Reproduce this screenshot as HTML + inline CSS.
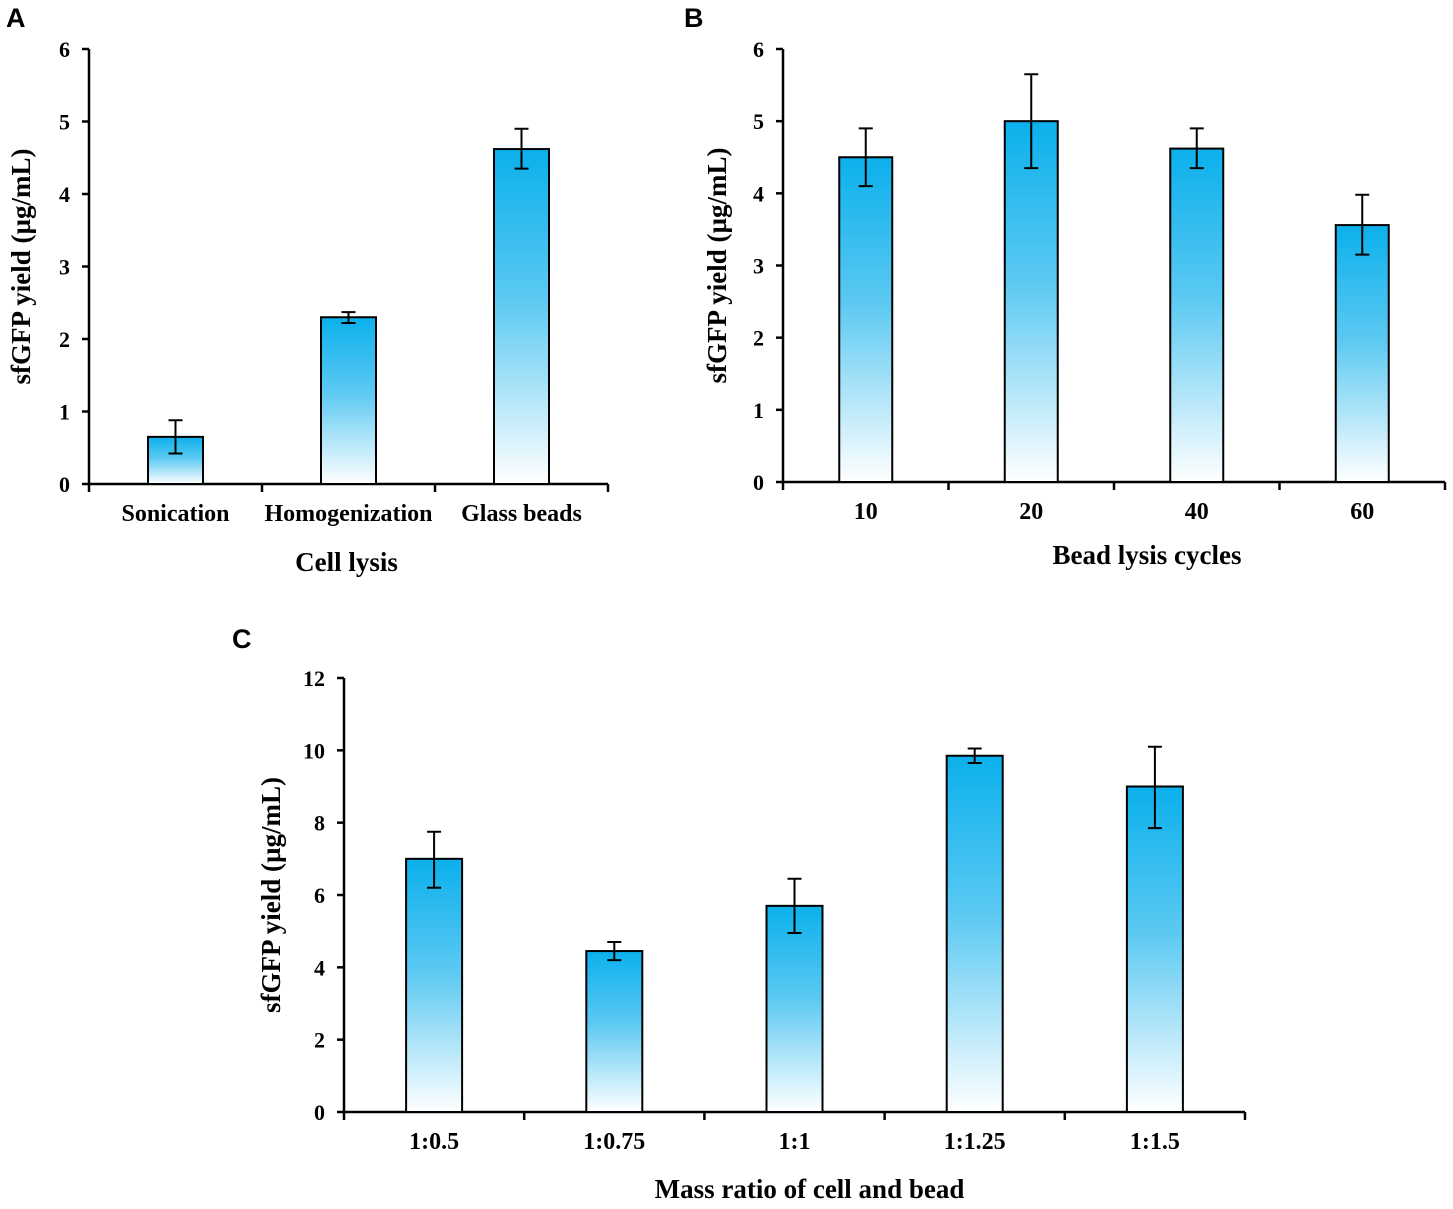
<!DOCTYPE html>
<html><head><meta charset="utf-8"><style>
html,body{margin:0;padding:0;background:#fff;}
svg text{font-family:"Liberation Serif",serif;font-weight:bold;fill:#000;}
</style></head><body>
<svg id="fig" width="1453" height="1204" viewBox="0 0 1453 1204" xmlns="http://www.w3.org/2000/svg">
<defs><linearGradient id="g" x1="0" y1="0" x2="0" y2="1">
<stop offset="0" stop-color="#0bb0ec"/><stop offset="0.45" stop-color="#5cc9f2"/><stop offset="1" stop-color="#ffffff"/></linearGradient></defs>
</svg>
<script>
const catsA=["Sonication","Homogenization","Glass beads"];
const valsA=[0.65,2.3,4.62];
const errLoA=[0.42,2.22,4.35];
const errHiA=[0.88,2.37,4.9];
const ticksA=[0,1,2,3,4,5,6];
const catsB=["10","20","40","60"];
const valsB=[4.5,5.0,4.62,3.56];
const errLoB=[4.1,4.35,4.35,3.15];
const errHiB=[4.9,5.65,4.9,3.98];
const ticksB=[0,1,2,3,4,5,6];
const catsC=["1:0.5","1:0.75","1:1","1:1.25","1:1.5"];
const valsC=[7.0,4.45,5.7,9.85,9.0];
const errLoC=[6.2,4.2,4.95,9.65,7.85];
const errHiC=[7.75,4.7,6.45,10.05,10.1];
const ticksC=[0,2,4,6,8,10,12];
const svg=document.getElementById('fig');
const NS='http://www.w3.org/2000/svg';
function mk(tag,attrs,txt){const e=document.createElementNS(NS,tag);for(const k in attrs)e.setAttribute(k,attrs[k]);if(txt!==undefined)e.textContent=txt;svg.appendChild(e);return e;}
function panel(p){
  const y=v=>p.y0-(v/p.ymax)*(p.y0-p.yTop);
  const step=(p.x1-p.x0)/p.cats.length;
  const x=i=>p.x0+step*(i+0.5);
  let a=mk('line',{x1:p.x0,y1:p.yTop,x2:p.x0,y2:p.y0,stroke:'#000','stroke-width':2.5});
  
  a=mk('line',{x1:p.x0,y1:p.y0,x2:p.x1,y2:p.y0,stroke:'#000','stroke-width':2.5});
  
  p.ticks.forEach(t=>{
    const l=mk('line',{x1:p.x0-7,y1:y(t),x2:p.x0,y2:y(t),stroke:'#000','stroke-width':2.5});
    
    const tx=mk('text',{x:p.x0-19,y:y(t)+8,'text-anchor':'end','font-size':22},String(t));
    
  });
  for(let i=0;i<=p.cats.length;i++){
    const xx=p.x0+step*i;
    const l=mk('line',{x1:xx,y1:p.y0,x2:xx,y2:p.y0+8,stroke:'#000','stroke-width':2.5});
    
  }
  p.cats.forEach((c,i)=>{
    const b=mk('rect',{x:x(i)-p.bw/2,y:y(p.vals[i]),width:p.bw,height:p.y0-y(p.vals[i]),fill:'url(#g)',stroke:'#000','stroke-width':2});
    
    const e=mk('path',{d:`M${x(i)},${y(p.lo[i])}V${y(p.hi[i])}M${x(i)-7},${y(p.lo[i])}H${x(i)+7}M${x(i)-7},${y(p.hi[i])}H${x(i)+7}`,stroke:'#000','stroke-width':2,fill:'none'});
    
    const t=mk('text',{x:x(i),y:p.y0+37,'text-anchor':'middle','font-size':24},c);
    
  });
  let t=mk('text',{x:(p.x0+p.x1)/2+p.xtOff,y:p.y0+p.xtDy,'text-anchor':'middle','font-size':27},p.xtitle);
  
  const cy=(p.yTop+p.y0)/2;
  t=mk('text',{x:p.ytX,y:cy,'text-anchor':'middle','font-size':27,transform:`rotate(-90 ${p.ytX} ${cy})`},'sfGFP yield (µg/mL)');
  
  t=mk('text',{x:p.lx,y:p.ly,'font-size':27,style:'font-family:"Liberation Sans",sans-serif'},p.letter);
  
}
panel({id:'panel-a',letter:'A',lx:6,ly:27,x0:89,x1:608,y0:484,yTop:49,ymax:6,bw:55,cats:catsA,vals:valsA,lo:errLoA,hi:errHiA,ticks:ticksA,xtitle:'Cell lysis',xtOff:-2,xtDy:87,ytX:30});
panel({id:'panel-b',letter:'B',lx:684,ly:27,x0:783,x1:1445,y0:482,yTop:49,ymax:6,bw:53,cats:catsB,vals:valsB,lo:errLoB,hi:errHiB,ticks:ticksB,xtitle:'Bead lysis cycles',xtOff:33,xtDy:82,ytX:726});
panel({id:'panel-c',letter:'C',lx:232,ly:648,x0:344,x1:1245,y0:1112,yTop:678,ymax:12,bw:56,cats:catsC,vals:valsC,lo:errLoC,hi:errHiC,ticks:ticksC,xtitle:'Mass ratio of cell and bead',xtOff:15,xtDy:86,ytX:280});
</script>
</body></html>
